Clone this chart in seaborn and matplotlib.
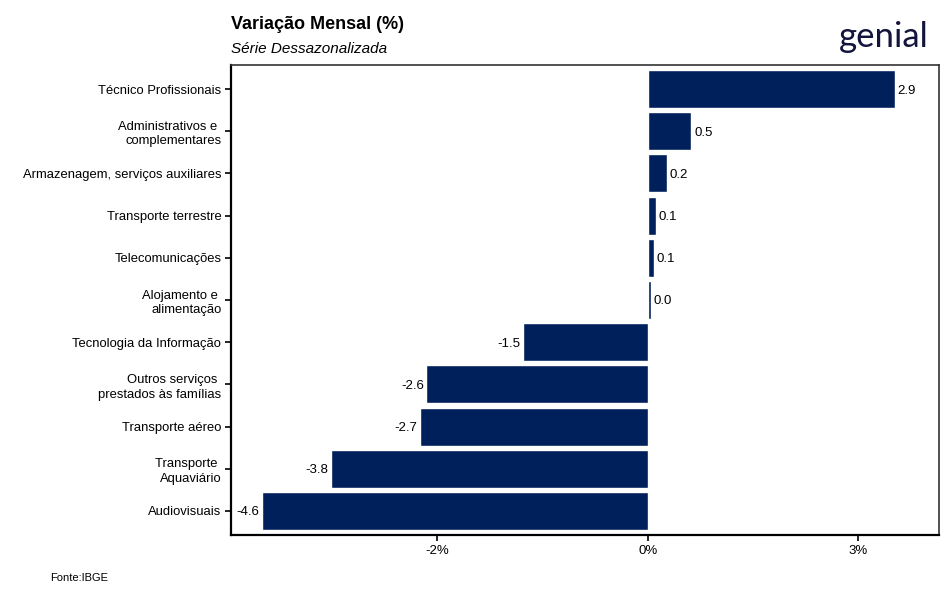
import matplotlib
matplotlib.use('Agg')
import pandas as pd
import seaborn as sns
import matplotlib.pyplot as plt

categorias = ['Técnico Profissionais', 'Administrativos e \ncomplementares',
              'Armazenagem, serviços auxiliares', 'Transporte terrestre',
              'Telecomunicações', 'Alojamento e \nalimentação',
              'Tecnologia da Informação', 'Outros serviços \nprestados às famílias',
              'Transporte aéreo', 'Transporte \nAquaviário', 'Audiovisuais']
variacao = [2.94, 0.52, 0.23, 0.10, 0.07, 0.04, -1.48, -2.63, -2.71, -3.76, -4.58]
tick_pos = [-2.5, 0, 2.5]
tick_lab = ['-2%', '0%', '3%']

df = pd.DataFrame({'setor': categorias, 'var': variacao})

sns.set_theme(style='white')
plt.rcParams['font.family'] = ['Liberation Sans', 'DejaVu Sans']
plt.rcParams['text.color'] = 'black'
plt.rcParams['xtick.color'] = 'black'
plt.rcParams['ytick.color'] = 'black'

fig = plt.figure(figsize=(9.44, 6.0), dpi=100)
ax = fig.add_axes([0.2447, 0.1083, 0.75, 0.7834])
sns.barplot(data=df, x='var', y='setor', orient='h', color='#00205B',
            saturation=1, width=0.9, edgecolor='white', linewidth=1, ax=ax)

for i, v in enumerate(variacao):
    if v >= 0:
        ax.text(v + 0.03, i, f'{v:.1f}', ha='left', va='center_baseline', fontsize=9.5)
    else:
        ax.text(v - 0.03, i, f'{v:.1f}', ha='right', va='center_baseline', fontsize=9.5)

ax.set_xlim(-4.95, 3.46)
ax.set_ylim(len(categorias) - 0.43, -0.57)
ax.set_xticks(tick_pos)
ax.set_xticklabels(tick_lab, fontsize=9.5)
ax.set_yticks(range(len(categorias)))
ax.set_yticklabels(categorias, fontsize=9.4, ha='right', multialignment='right', linespacing=1.3)
ax.set_xlabel('')
ax.set_ylabel('')
ax.tick_params(axis='both', length=4, width=1.2, color='black', pad=3, labelcolor='black',
               left=True, bottom=True)
for s in ['left', 'bottom']:
    ax.spines[s].set_color('black')
    ax.spines[s].set_linewidth(1.6)
for s in ['top', 'right']:
    ax.spines[s].set_color('#333333')
    ax.spines[s].set_linewidth(1.2)

fig.text(0.2447, 0.952, 'Variação Mensal (%)', fontsize=13, fontweight='bold', ha='left', va='baseline')
fig.text(0.2447, 0.912, 'Série Dessazonalizada', fontsize=11, style='italic', ha='left', va='baseline')
fig.text(0.984, 0.922, 'genial', fontsize=25, color='#12143C', ha='right', va='baseline',
         family=['Lato', 'DejaVu Sans'])
fig.text(0.053, 0.032, 'Fonte:IBGE', fontsize=8, ha='left', va='baseline')

fig.savefig('out.png', dpi=100)
